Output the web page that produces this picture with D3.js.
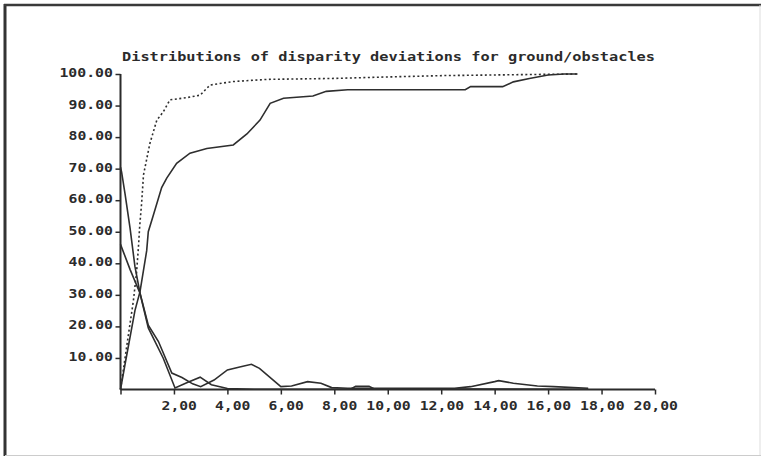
<!DOCTYPE html>
<html>
<head>
<meta charset="utf-8">
<script src="https://cdn.jsdelivr.net/npm/d3@7"></script>
<style>
  html, body { margin: 0; padding: 0; background: #fff; }
  svg { display: block; }
  text { font-family: "DejaVu Sans Mono", "Liberation Mono", monospace; fill: #2b2b2b; font-weight: bold; }
</style>
</head>
<body>
<script>
var title = "Distributions of disparity deviations for ground/obstacles";

var xTicks = [0, 2, 4, 6, 8, 10, 12, 14, 16, 18, 20];
var yTicks = [10, 20, 30, 40, 50, 60, 70, 80, 90, 100];

// cumulative, obstacles (dotted)
var obstCumX = [0, 0.29, 0.48, 0.6, 0.67, 0.72, 0.79, 0.86, 1.1, 1.36, 1.6, 1.85, 2.48, 2.98, 3.35, 4.2, 5.5, 8.0, 9.7, 12.1, 15.0, 17.1];
var obstCumY = [0, 17, 28, 37, 45, 52, 59, 68, 78, 85.4, 88, 91.8, 92.5, 93.3, 96.5, 97.6, 98.3, 98.6, 99, 99.5, 99.8, 100];

// cumulative, ground (solid)
var groundCumX = [0, 0.17, 0.54, 0.73, 0.98, 1.04, 1.22, 1.54, 1.73, 2.1, 2.6, 3.23, 4.22, 4.73, 5.22, 5.6, 6.1, 7.2, 7.7, 8.5, 12.9, 13.1, 14.3, 14.7, 15.3, 16.0, 16.6, 17.1];
var groundCumY = [0, 8, 25, 31, 44, 50, 55, 64, 67, 71.7, 74.9, 76.4, 77.5, 81, 85.4, 90.7, 92.3, 93, 94.5, 95, 95, 96, 96, 97.5, 98.6, 99.7, 100, 100];

// distribution starting near 70 (solid)
var distAX = [0, 0.04, 0.17, 0.36, 0.54, 0.73, 1.04, 1.6, 2.04, 2.5, 2.98, 3.4, 4.0, 5.0, 8.6, 8.8, 9.3, 9.5, 17.5];
var distAY = [70.5, 69, 62, 51, 39, 30.5, 19.5, 9.9, 0.5, 2.2, 3.9, 1.5, 0.3, 0.1, 0.1, 1.0, 1.0, 0.2, 0.1];

// distribution starting near 46 (solid)
var distBX = [0, 0.36, 0.73, 1.04, 1.42, 1.92, 2.3, 2.7, 3.0, 3.5, 4.0, 4.5, 4.9, 5.2, 6.0, 6.4, 7.0, 7.5, 7.9, 8.5, 10.5, 12.5, 13.1, 14.0, 14.15, 14.7, 15.6, 16.2, 17.5];
var distBY = [46, 38, 30.5, 20.4, 15.2, 5.2, 3.8, 1.8, 0.9, 3.0, 6.2, 7.2, 8.0, 6.7, 0.9, 1.1, 2.5, 2.0, 0.6, 0.4, 0.4, 0.4, 0.9, 2.5, 2.8, 2.0, 1.1, 0.9, 0.4];

var width = 761, height = 456;

var svg = d3.select("body").append("svg")
  .attr("width", width)
  .attr("height", height);

svg.append("rect")
  .attr("width", width)
  .attr("height", height)
  .attr("fill", "#fff");

// frame round the picture
svg.append("line").attr("x1", 5).attr("y1", 4).attr("x2", 5).attr("y2", 456)
  .attr("stroke", "#333").attr("stroke-width", 3);
svg.append("line").attr("x1", 4).attr("y1", 5).attr("x2", 761).attr("y2", 5)
  .attr("stroke", "#3a3a3a").attr("stroke-width", 2.5);
svg.append("line").attr("x1", 760).attr("y1", 5).attr("x2", 760).attr("y2", 456)
  .attr("stroke", "#ddd").attr("stroke-width", 1);
svg.append("line").attr("x1", 5).attr("y1", 455.5).attr("x2", 761).attr("y2", 455.5)
  .attr("stroke", "#ccc").attr("stroke-width", 1);

var x = d3.scaleLinear().domain([0, 20]).range([120.5, 655]);
var y = d3.scaleLinear().domain([0, 100]).range([389.5, 74]);

var charW = 9.1;

svg.append("text")
  .attr("x", 122)
  .attr("y", 61)
  .attr("font-size", 13)
  .attr("textLength", 533)
  .attr("lengthAdjust", "spacingAndGlyphs")
  .text(title);

// axes
var xAxis = d3.axisBottom(x)
  .tickValues(xTicks)
  .tickSize(5)
  .tickFormat("");
var gx = svg.append("g")
  .attr("transform", "translate(0," + y(0) + ")")
  .call(xAxis);

var yAxis = d3.axisLeft(y)
  .tickValues(yTicks)
  .tickSize(5)
  .tickFormat("");
var gy = svg.append("g")
  .attr("transform", "translate(" + x(0) + ",0)")
  .call(yAxis);

[gx, gy].forEach(function (g) {
  g.select(".domain").attr("stroke", "#2b2b2b").attr("stroke-width", 2);
  g.selectAll(".tick line").attr("stroke", "#2b2b2b").attr("stroke-width", 1.5);
});
gy.select(".domain").attr("d", "M0," + y(100) + "V" + y(0));
gx.select(".domain").attr("d", "M" + x(0) + ",0H" + x(20));

// tick labels
function fmtX(v) { return v.toFixed(2).replace(".", ","); }
function fmtY(v) { return v.toFixed(2); }

svg.append("g").selectAll("text")
  .data(xTicks.filter(function (v) { return v > 0; }))
  .enter()
  .append("text")
  .attr("x", function (v) { return x(v) + 23; })
  .attr("y", 409.5)
  .attr("font-size", 12)
  .attr("text-anchor", "end")
  .attr("textLength", function (v) { return fmtX(v).length * charW - 1; })
  .attr("lengthAdjust", "spacingAndGlyphs")
  .text(fmtX);

svg.append("g").selectAll("text")
  .data(yTicks)
  .enter()
  .append("text")
  .attr("x", 113)
  .attr("y", function (v) { return y(v) + 3; })
  .attr("font-size", 12)
  .attr("text-anchor", "end")
  .attr("textLength", function (v) { return fmtY(v).length * charW - 1; })
  .attr("lengthAdjust", "spacingAndGlyphs")
  .text(fmtY);

// curves
function zip(xs, ys) {
  return xs.map(function (v, i) { return [v, ys[i]]; });
}

var line = d3.line()
  .x(function (d) { return x(d[0]); })
  .y(function (d) { return y(d[1]); });

var series = [
  { pts: zip(distBX, distBY), dash: null },
  { pts: zip(distAX, distAY), dash: null },
  { pts: zip(groundCumX, groundCumY), dash: null },
  { pts: zip(obstCumX, obstCumY), dash: "2,2.5" }
];

svg.append("g").selectAll("path")
  .data(series)
  .enter()
  .append("path")
  .attr("d", function (s) { return line(s.pts); })
  .attr("fill", "none")
  .attr("stroke", "#2e2e2e")
  .attr("stroke-width", 1.6)
  .attr("stroke-dasharray", function (s) { return s.dash; });
</script>
</body>
</html>
